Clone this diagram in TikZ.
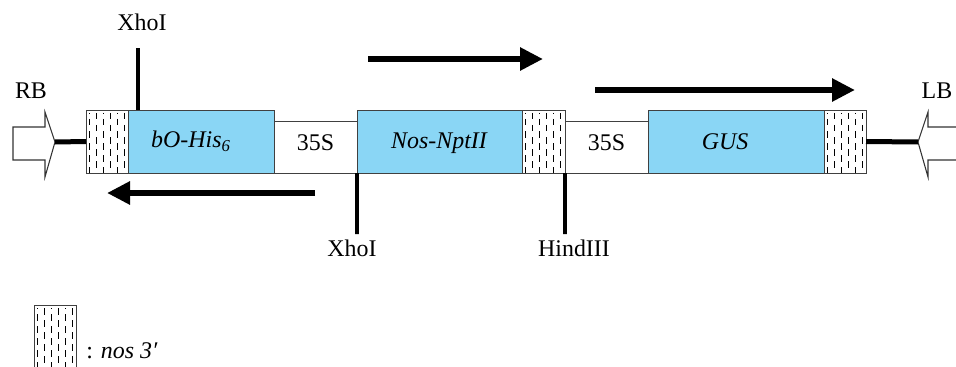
\documentclass[tikz,border=0pt]{standalone}
\usepackage{fontspec}
\setmainfont{Liberation Serif}
\usetikzlibrary{arrows.meta,positioning}
\definecolor{geneblue}{RGB}{138,214,245}

\begin{document}
\begin{tikzpicture}[x=0.2mm, y=-0.2mm, every node/.style={font=\fontsize{13.6}{16}\selectfont},
  part/.style={draw=black!75, line width=0.5pt, inner sep=0pt, outer sep=0pt, minimum height=12.6mm, anchor=south west},
  gene/.style={part, fill=geneblue},
  prom/.style={part, fill=white, minimum height=10.4mm, minimum width=16.6mm},
  nos/.style={part, fill=white, path picture={
      \foreach \k [evaluate=\k as \ph using {mod(\k,2)*1.2}] in {1,...,6}
        \draw[black, line width=1pt, dash pattern=on 1.3mm off 1.1mm, dash phase=\ph mm]
          ([xshift=\k*1.4mm-0.7mm, yshift=-0.6mm]path picture bounding box.north west) -- ([xshift=\k*1.4mm-0.7mm]path picture bounding box.south west);}},
  cut/.style={line width=0.75mm},
  wire/.style={line width=1mm},
  dir/.style={line width=1.2mm, -{Triangle[length=4.6mm, width=4.4mm]}},
  border/.style={draw=black!80, line width=0.6pt, fill=white}]
\useasboundingbox (0,0) rectangle (956,367);

% construct
\node[nos, minimum width=8.4mm] (nosL) at (86,173) {};
\node[gene, minimum width=29.2mm, label={[xshift=-2mm]center:\textit{bO-His\textsubscript{6}}}] (his) at (nosL.south east) {};
\node[prom, label={[yshift=0.8mm]center:35S}] (proA) at (his.south east) {};
\node[gene, minimum width=33mm, label={[yshift=-0.4mm]center:\textit{Nos-NptII}}] (npt) at (proA.south east) {};
\node[nos, minimum width=8.6mm] (nosM) at (npt.south east) {};
\node[prom, label={[yshift=0.8mm]center:35S}] (proB) at (nosM.south east) {};
\node[gene, minimum width=35.2mm, label={[xshift=-2.2mm]center:\textit{GUS}}] (gus) at (proB.south east) {};
\node[nos, minimum width=8.4mm] (nosR) at (gus.south east) {};

% borders
\draw[border] (13,127) -- (45,127) -- (45,112) -- (55,142) -- (45,177) -- (45,160) -- (13,160) -- cycle;
\draw[border] (975,127) -- (928,127) -- (928,112) -- (918,142) -- (928,177) -- (928,160) -- (975,160);
\coordinate (rbTip) at (55,142);
\coordinate (lbTip) at (918,142);
\node (rb) at (31,91) {RB};
\node (lb) at (937,91) {LB};
\draw[wire] (rbTip) -- (nosL.west);
\draw[wire] (nosR.east) -- (lbTip);

% restriction sites
\node (xhoA) at (142,22) {XhoI};
\node (xhoB) at (352,248) {XhoI};
\node (hind) at (574,248) {HindIII};
\coordinate (xhoAend) at (138,48);
\coordinate (xhoBend) at (357,234);
\coordinate (hindEnd) at (565,234);
\draw[cut] (xhoAend) -- (xhoAend |- his.north);
\draw[cut] (npt.south west) -- (xhoBend);
\draw[cut] (nosM.south east) -- (hindEnd);

% transcription
\coordinate (nptS) at (368,59);
\coordinate (nptE) at (543,59);
\coordinate (gusS) at (595,90);
\coordinate (gusE) at (855,90);
\coordinate (hisS) at (315,193);
\coordinate (hisE) at (107,193);
\draw[dir] (nptS) -- (nptE);
\draw[dir] (gusS) -- (gusE);
\draw[dir] (hisS) -- (hisE);

% key
\node[nos, minimum width=8.4mm, anchor=north west] (key) at (34,305) {};
\node[anchor=base west, inner sep=0pt] (keytext) at (86,358) {: \textit{nos 3′}};
\end{tikzpicture}
\end{document}
